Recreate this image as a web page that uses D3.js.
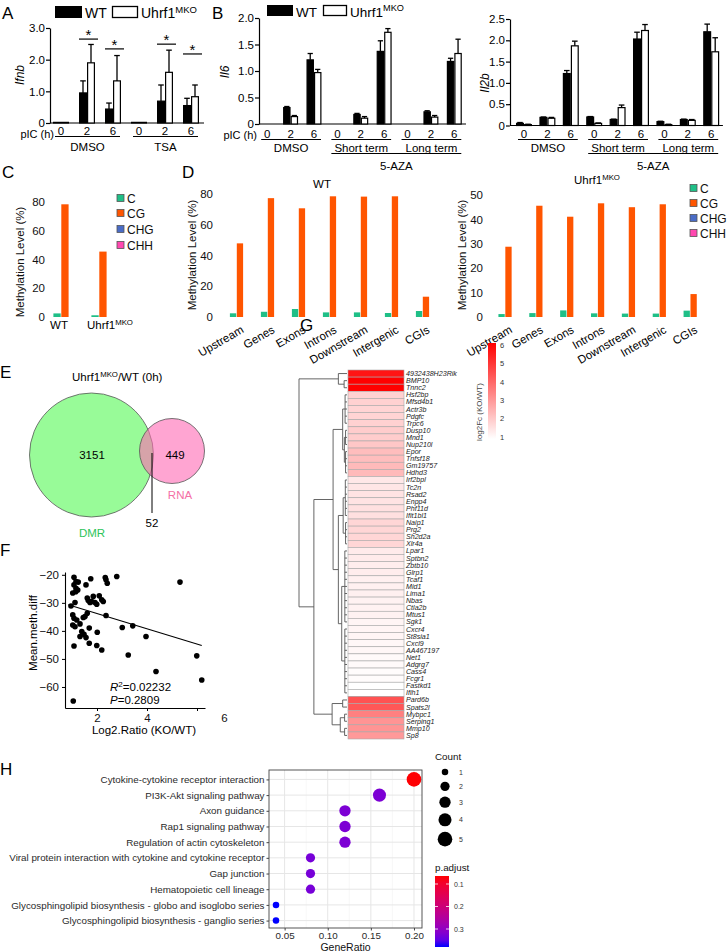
<!DOCTYPE html>
<html><head><meta charset="utf-8">
<script src="https://cdn.jsdelivr.net/npm/d3@7"></script>
<style>body{margin:0;background:#fff}svg{display:block}</style>
</head><body><svg id="c" width="728" height="952"></svg>
<script>
// ================= DATA =================
const pICLabels = ["0","2","6"];
// Panel A (Ifnb)
const ifnbKeys = ["DMSO-0","DMSO-2","DMSO-6","TSA-0","TSA-2","TSA-6"];
const ifnbGroups = ["DMSO","TSA"];
const ifnbWT    = [0.02,0.95,0.44,0.02,0.69,0.55];
const ifnbWTErr = [0,0.38,0.19,0,0.51,0.23];
const ifnbKO    = [0.02,1.9,1.33,0.02,1.6,0.83];
const ifnbKOErr = [0,0.58,0.8,0,0.7,0.37];
const ifnbTicks = [0,1,2,3];
const ifnbSigKeys = ["DMSO-2","DMSO-6","TSA-2","TSA-6"];
const ifnbSigY = [2.65,2.34,2.49,2.18];
// Panel B (Il6, Il2b)
const azaKeys = ["DMSO-0","DMSO-2","DMSO-6","Short-0","Short-2","Short-6","Long-0","Long-2","Long-6"];
const azaGroups = ["DMSO","Short term","Long term"];
const il6WT    = [0,0.31,1.21,0,0.18,1.37,0,0.23,1.18];
const il6WTErr = [0,0.02,0.12,0,0.02,0.2,0,0.02,0.06];
const il6KO    = [0,0.14,0.97,0,0.11,1.73,0,0.13,1.33];
const il6KOErr = [0,0.02,0.06,0,0.03,0.07,0,0.03,0.27];
const il6Ticks = [0,0.5,1,1.5,2];
const il2bWT    = [0.05,0.19,1.22,0.2,0.14,2.03,0.09,0.14,2.2];
const il2bWTErr = [0.02,0.01,0.07,0.01,0.01,0.16,0.01,0.01,0.18];
const il2bKO    = [0.02,0.17,1.87,0.05,0.42,2.23,0.02,0.12,1.73];
const il2bKOErr = [0.01,0.02,0.11,0.01,0.06,0.14,0.01,0.02,0.33];
const il2bTicks = [0,0.5,1,1.5,2,2.5];
// Panel C/D
const contexts = ["C","CG","CHG","CHH"];
const contextColors = ["#1fbf87","#ff5500","#4a6cc6","#ff48b0"];
const sampleKeys = ["WT","Uhrf1MKO"];
const sampleC  = [2.5,1.2];
const sampleCG = [78.4,45.5];
const regions = ["Upstream","Genes","Exons","Introns","Downstream","Intergenic","CGIs"];
const wtRegionC  = [2.4,3.4,5.2,3.0,3.0,2.6,3.9];
const wtRegionCG = [47.9,77.3,70.7,78.5,78.3,78.5,13.2];
const koRegionC  = [1.2,1.6,2.7,1.5,1.4,1.4,2.6];
const koRegionCG = [28.8,45.6,41.1,46.6,45.0,46.2,9.4];
const methTicksWT = [0,20,40,60,80];
const methTicksKO = [0,10,20,30,40,50];
// Panel E
const vennSets = ["DMR","RNA"];
const vennCounts = [3151,449,52];
// Panel F
const fX = [1.08,1.16,1.25,1.08,1.16,1.03,1.15,1.23,0.96,1.12,1.03,1.08,1.19,1.03,1.12,1.32,1.45,1.52,1.61,1.32,1.39,1.48,1.56,1.69,1.08,1.56,1.75,1.61,1.72,1.65,1.85,1.79,1.92,1.99,2.09,2.19,2.25,2.33,2.36,2.41,2.79,2.36,1.69,2.01,1.99,2.19,3.01,3.43,3.25,3.96,4.36,5.32,5.99,6.19,1.05];
const fY = [-20.9,-22.4,-22.6,-23.6,-24.8,-26.5,-26.0,-25.4,-31.1,-29.9,-34.3,-35.5,-36.1,-37.9,-38.5,-37.5,-35.2,-34.9,-33.7,-42.0,-40.2,-41.2,-42.4,-39.0,-45.4,-23.6,-21.4,-28.3,-29.9,-29.2,-27.7,-29.5,-29.9,-30.5,-27.5,-28.9,-29.5,-21.0,-21.8,-23.0,-20.6,-34.5,-44.4,-40.5,-45.2,-46.8,-38.8,-38.2,-48.6,-42.0,-54.5,-22.6,-48.9,-57.5,-65.0];
const fFitX = [0.85,6.19];
const fFitY = [-30.7,-45.2];
const fXTicks = [2,4,6];
const fYTicks = [-20,-30,-40,-50,-60];
// Panel G
const hmGenes = ["4932438H23Rik","BMP10","Tnnc2","Hsf2bp","Mfsd4b1","Actr3b","Pdgfc","Trpc6","Dusp10","Mnd1","Nup210l","Epor","Tnfsf18","Gm19757","Hdhd3","Irf2bpl","Tc2n","Rsad2","Enpp4","Phf11d","Ifit1bl1","Naip1","Prg2","Sh2d2a","Xlr4a","Lpar1","Sptbn2","Zbtb10","Glrp1","Tcaf1","Mid1","Lima1","Nbas","Ctla2b","Mtus1","Sgk1","Cxcr4","St8sia1","Cxcl9","AA467197","Net1","Adgrg7","Cass4","Fcgr1","Fastkd1","Ifih1","Pard6b","Spats2l","Mybpc1","Serping1","Mmp10","Sp8"];
const hmLog2FC = [5.6,6.0,6.0,1.9,1.9,1.85,1.85,1.9,2.0,2.0,2.1,2.3,2.3,2.35,2.35,1.45,1.5,1.55,1.55,1.6,1.6,1.8,1.8,1.8,1.8,1.4,1.4,1.35,1.35,1.3,1.3,1.3,1.25,1.25,1.25,1.2,1.2,1.2,1.15,1.15,1.1,1.1,1.05,1.05,1.0,1.0,4.4,4.3,3.5,3.1,3.1,3.0];
const hmLegendTicks = [1,2,3,4,5,6];
const dendro = {h:10, c:[
  {h:1.8, c:["4932438H23Rik",{h:0.6,c:["BMP10","Tnnc2"]}]},
  {h:6.9, c:[
    {h:2.9, c:[
      {h:0.9, c:[{h:0.4,c:["Hsf2bp","Mfsd4b1","Actr3b","Pdgfc","Trpc6"]},{h:0.55,c:[{h:0.3,c:["Dusp10","Mnd1","Nup210l"]},{h:0.3,c:["Epor","Tnfsf18","Gm19757","Hdhd3"]}]}]},
      {h:1.8, c:[
        {h:0.8, c:[{h:0.35,c:["Irf2bpl","Tc2n","Rsad2","Enpp4","Phf11d","Ifit1bl1"]},{h:0.3,c:["Naip1","Prg2","Sh2d2a","Xlr4a"]}]},
        {h:1.1, c:[{h:0.45,c:["Lpar1","Sptbn2","Zbtb10","Glrp1","Tcaf1","Mid1","Lima1","Nbas","Ctla2b","Mtus1","Sgk1"]},{h:0.45,c:["Cxcr4","St8sia1","Cxcl9","AA467197","Net1","Adgrg7","Cass4","Fcgr1","Fastkd1","Ifih1"]}]}
      ]}
    ]},
    {h:3.1, c:[{h:0.9,c:["Pard6b","Spats2l"]},{h:1.4,c:[{h:0.5,c:["Mybpc1","Serping1"]},{h:0.5,c:["Mmp10","Sp8"]}]}]}
  ]}
]};
// Panel H
const keggTerms = ["Cytokine-cytokine receptor interaction","PI3K-Akt signaling pathway","Axon guidance","Rap1 signaling pathway","Regulation of actin cytoskeleton","Viral protein interaction with cytokine and cytokine receptor","Gap junction","Hematopoietic cell lineage","Glycosphingolipid biosynthesis - globo and isoglobo series","Glycosphingolipid biosynthesis - ganglio series"];
const keggRatio = [0.20,0.16,0.12,0.12,0.12,0.08,0.08,0.08,0.04,0.04];
const keggCount = [5,4,3,3,3,2,2,2,1,1];
const keggPadj  = [0.066,0.325,0.325,0.325,0.325,0.33,0.33,0.33,0.38,0.38];
const keggXTicks = [0.05,0.10,0.15,0.20];
const countLegend = [1,2,3,4,5];
const padjTicks = [0.1,0.2,0.3];

// ================= DRAWING =================
const FONT = "'Liberation Sans', Arial, Helvetica, sans-serif";
const svg = d3.select("#c");
svg.append("rect").attr("width",728).attr("height",952).attr("fill","#fff");
const defs = svg.append("defs");

function txt(p,x,y,s,o={}){
  const t=p.append("text").attr("x",x).attr("y",y).attr("font-family",FONT)
    .attr("font-size",o.fs||11).attr("fill",o.fill||"#000").attr("text-anchor",o.anchor||"start").text(s);
  if(o.italic) t.attr("font-style","italic");
  if(o.rotate!=null) t.attr("transform",`rotate(${o.rotate},${x},${y})`);
  return t;
}
function supTxt(p,x,y,base,sup,after,o={}){
  const fs=o.fs||11;
  const t=txt(p,x,y,"",o);
  t.append("tspan").text(base);
  t.append("tspan").attr("dy",-fs*0.38).attr("font-size",fs*0.68).text(sup);
  if(after) t.append("tspan").attr("dy",fs*0.38).text(after);
  return t;
}

// panel letters
[["A",2,19],["B",212,19],["C",2,178],["D",182,178],["E",0,378],["F",0,556],["G",300,331],["H",0,775]]
  .forEach(([l,x,y])=>txt(svg,x,y,l,{fs:17}));

// ---------- grouped bar charts (A, B) ----------
function barChart(o){
  const g=svg.append("g");
  const x=d3.scaleBand().domain(o.keys).range(o.xr);
  const y=d3.scaleLinear().domain([0,o.ymax]).range([o.y0,o.y1]);
  const ax=g.append("g").attr("transform",`translate(${o.ax},0)`)
    .call(d3.axisLeft(y).tickValues(o.ticks).tickFormat(d=>d===0?"0":d3.format(".1f")(d)).tickSize(4).tickSizeOuter(0));
  ax.select(".domain").attr("stroke","#000").attr("stroke-width",1.2);
  ax.selectAll(".tick line").attr("stroke","#000").attr("stroke-width",1.2);
  ax.selectAll(".tick text").attr("font-size",11.5).attr("fill","#000").attr("font-family",FONT).attr("x",-5);
  g.append("line").attr("x1",o.ax).attr("x2",o.xr[1]).attr("y1",o.y0).attr("y2",o.y0).attr("stroke","#000").attr("stroke-width",1.2);
  const cx=k=>x(k)+x.bandwidth()/2, bw=o.bw;
  [[o.wt,o.wtErr,"#000",-bw],[o.ko,o.koErr,"#fff",0]].forEach(([vals,errs,fill,off])=>{
    o.keys.forEach((k,i)=>{
      const v=vals[i], e=errs[i], bx=cx(k)+off;
      g.append("rect").attr("x",bx+0.6).attr("y",y(v)).attr("width",bw-1.2).attr("height",Math.max(0,o.y0-y(v)))
        .attr("fill",fill).attr("stroke","#000").attr("stroke-width",1.2);
      if(e>0){
        const mx=bx+bw/2;
        g.append("line").attr("x1",mx).attr("x2",mx).attr("y1",y(v)).attr("y2",y(v+e)).attr("stroke","#000").attr("stroke-width",1.3);
        g.append("line").attr("x1",mx-bw*0.35).attr("x2",mx+bw*0.35).attr("y1",y(v+e)).attr("y2",y(v+e)).attr("stroke","#000").attr("stroke-width",1.3);
      }
    });
  });
  o.keys.forEach((k,i)=>txt(g,cx(k),o.tickY,pICLabels[i%3],{fs:11.5,anchor:"middle"}));
  if(o.picX!=null) txt(g,o.picX,o.tickY+o.picDy,"pIC (h)",{fs:11,anchor:"end"});
  o.groups.forEach((gn,gi)=>{
    const a=cx(o.keys[gi*3])-6, b=cx(o.keys[gi*3+2])+7;
    g.append("line").attr("x1",a).attr("x2",b).attr("y1",o.lineY).attr("y2",o.lineY).attr("stroke","#000").attr("stroke-width",1);
    txt(g,(a+b)/2,o.groupY,gn,{fs:11.5,anchor:"middle"});
  });
  if(o.aza){
    const a=cx(o.keys[3])-6, b=cx(o.keys[8])+7;
    g.append("line").attr("x1",a).attr("x2",b).attr("y1",o.lineY+14).attr("y2",o.lineY+14).attr("stroke","#000").attr("stroke-width",1);
    txt(g,(a+b)/2,o.lineY+30,"5-AZA",{fs:11.5,anchor:"middle"});
  }
  txt(g,o.ylx,o.yly,o.ylabel,{fs:12,italic:true,anchor:"middle",rotate:-90});
  return {g,x,y,cx};
}

const A=barChart({keys:ifnbKeys,groups:ifnbGroups,xr:[48,204],ymax:3,y0:123,y1:28,ax:50,ticks:ifnbTicks,
  wt:ifnbWT,wtErr:ifnbWTErr,ko:ifnbKO,koErr:ifnbKOErr,bw:8,tickY:135,picX:54,picDy:2.5,lineY:136.5,groupY:151,ylabel:"Ifnb",ylx:24,yly:75});
ifnbSigKeys.forEach((k,i)=>{
  const c=A.cx(k), yy=A.y(ifnbSigY[i]);
  A.g.append("line").attr("x1",c-8).attr("x2",c+11).attr("y1",yy).attr("y2",yy).attr("stroke","#000").attr("stroke-width",1.2);
  txt(A.g,c+1.5,yy+1,"*",{fs:15,anchor:"middle"});
});
// legend A
svg.append("rect").attr("x",55).attr("y",6).attr("width",27).attr("height",12).attr("fill","#000");
txt(svg,85,18,"WT",{fs:14});
svg.append("rect").attr("x",112.5).attr("y",6.5).attr("width",25).attr("height",11).attr("fill","#fff").attr("stroke","#000").attr("stroke-width",1.3);
supTxt(svg,141,18,"Uhrf1","MKO",null,{fs:14});

barChart({keys:azaKeys,groups:azaGroups,xr:[255.5,466],ymax:2,y0:124,y1:18,ax:259,ticks:il6Ticks,
  wt:il6WT,wtErr:il6WTErr,ko:il6KO,koErr:il6KOErr,bw:7.5,tickY:137.5,picX:257,picDy:1,lineY:139.5,groupY:151.5,ylabel:"Il6",ylx:229,yly:72,aza:true});
barChart({keys:azaKeys,groups:azaGroups,xr:[512.3,722.9],ymax:2.5,y0:125.5,y1:19,ax:510,ticks:il2bTicks,
  wt:il2bWT,wtErr:il2bWTErr,ko:il2bKO,koErr:il2bKOErr,bw:8,tickY:137.5,picX:null,picDy:0,lineY:139.5,groupY:151.5,ylabel:"Il2b",ylx:489,yly:83,aza:true});
// legend B
svg.append("rect").attr("x",267).attr("y",5).attr("width",26).attr("height",11).attr("fill","#000");
txt(svg,296,16.5,"WT",{fs:13.5});
svg.append("rect").attr("x",323.5).attr("y",5.5).attr("width",23).attr("height",10).attr("fill","#fff").attr("stroke","#000").attr("stroke-width",1.3);
supTxt(svg,350,16.5,"Uhrf1","MKO",null,{fs:13.5});

// ---------- methylation bars (C, D) ----------
function methChart(o){
  const g=svg.append("g");
  const x=d3.scaleBand().domain(o.keys).range(o.xr);
  const y=d3.scaleLinear().domain([0,o.ymax]).range([317,o.yTop]);
  const ax=g.append("g").attr("transform",`translate(${o.labX},0)`).call(d3.axisLeft(y).tickValues(o.ticks).tickSize(0).tickPadding(0));
  ax.select(".domain").remove();
  ax.selectAll(".tick text").attr("font-size",11.5).attr("fill","#111").attr("font-family",FONT);
  const cx=k=>x(k)+x.bandwidth()/2;
  o.keys.forEach((k,i)=>{
    g.append("rect").attr("x",cx(k)-o.bw-0.3).attr("y",y(o.c[i])).attr("width",o.bw).attr("height",317-y(o.c[i])).attr("fill",contextColors[0]);
    g.append("rect").attr("x",cx(k)+0.3).attr("y",y(o.cg[i])).attr("width",o.bw).attr("height",317-y(o.cg[i])).attr("fill",contextColors[1]);
  });
  txt(g,o.ylx,o.yly,"Methylation Level (%)",{fs:11.5,anchor:"middle",rotate:-90,fill:"#111"});
  return {g,x,y,cx};
}
function methLegend(x0,ys){
  contexts.forEach((c,i)=>{
    svg.append("rect").attr("x",x0).attr("y",ys[i]-3.5).attr("width",7).attr("height",7).attr("fill",contextColors[i]).attr("stroke","#555").attr("stroke-width",0.8);
    txt(svg,x0+10,ys[i]+4.5,c,{fs:12,fill:"#111"});
  });
}
const C=methChart({keys:sampleKeys,xr:[42,118],ymax:80,yTop:202,labX:45,ticks:methTicksWT,c:sampleC,cg:sampleCG,bw:7.3,ylx:24,yly:262});
txt(svg,C.cx("WT")-2,329,"WT",{fs:11.5,anchor:"middle"});
supTxt(svg,C.cx("Uhrf1MKO")-12,329,"Uhrf1","MKO",null,{fs:11.5});
methLegend(117,[198,213,229,245]);

const DW=methChart({keys:regions,xr:[221,438],ymax:80,yTop:194,labX:213,ticks:methTicksWT,c:wtRegionC,cg:wtRegionCG,bw:6.3,ylx:196,yly:255});
txt(svg,322,188,"WT",{fs:11.5,anchor:"middle"});
const DK=methChart({keys:regions,xr:[489.6,705.6],ymax:50,yTop:195,labX:483,ticks:methTicksKO,c:koRegionC,cg:koRegionCG,bw:6.3,ylx:466,yly:255});
supTxt(svg,574,184,"Uhrf1","MKO",null,{fs:11.5});
methLegend(690,[188,203,218,233]);
[DW,DK].forEach(D=>regions.forEach(r=>{
  txt(svg,D.cx(r)+8,332,r,{fs:11.5,anchor:"end",rotate:-30});
}));

// ---------- Venn (E) ----------
supTxt(svg,72,381,"Uhrf1","MKO","/WT (0h)",{fs:11.5});
svg.append("circle").attr("cx",91.5).attr("cy",455).attr("r",62).attr("fill","#98fb98").attr("stroke","#555").attr("stroke-width",0.8);
svg.append("circle").attr("cx",172).attr("cy",451).attr("r",32.5).attr("fill","#ff69b4").attr("fill-opacity",0.6).attr("stroke","#555").attr("stroke-width",0.8);
txt(svg,92,459,vennCounts[0],{fs:11.5,anchor:"middle"});
txt(svg,175,459,vennCounts[1],{fs:11.5,anchor:"middle"});
svg.append("line").attr("x1",152).attr("x2",152).attr("y1",453).attr("y2",513).attr("stroke","#000").attr("stroke-width",1);
txt(svg,152,527,vennCounts[2],{fs:11.5,anchor:"middle"});
txt(svg,92,537,vennSets[0],{fs:11.5,anchor:"middle",fill:"#2ec45a"});
txt(svg,180,499,vennSets[1],{fs:11.5,anchor:"middle",fill:"#f46fa6"});

// ---------- Scatter (F) ----------
{
  const g=svg.append("g");
  const x=d3.scaleLinear().domain([0.72,6.32]).range([65,205]);
  const y=d3.scaleLinear().domain([-67.5,-19]).range([708,572]);
  const ay=g.append("g").attr("transform","translate(65,0)").call(d3.axisLeft(y).tickValues(fYTicks).tickSize(3).tickSizeOuter(0));
  const axx=g.append("g").attr("transform","translate(0,708)").call(d3.axisBottom(x).tickValues(fXTicks).tickFormat(d3.format("d")).tickSize(3).tickSizeOuter(0));
  [ay,axx].forEach(a=>{a.select(".domain").attr("stroke","#000").attr("stroke-width",1.1);
    a.selectAll(".tick line").attr("stroke","#000");
    a.selectAll(".tick text").attr("font-size",11.5).attr("fill","#111").attr("font-family",FONT);});
  axx.selectAll(".tick text").attr("dx",d=>d===6?27:0);
  fX.forEach((v,i)=>g.append("circle").attr("cx",x(v)).attr("cy",y(fY[i])).attr("r",2.8).attr("fill","#000"));
  g.append("line").attr("x1",x(fFitX[0])).attr("x2",x(fFitX[1])).attr("y1",y(fFitY[0])).attr("y2",y(fFitY[1])).attr("stroke","#000").attr("stroke-width",1.1);
  const r=txt(g,110,691,"",{fs:11.5});
  r.append("tspan").attr("font-style","italic").text("R");
  r.append("tspan").attr("dy",-4).attr("font-size",8).text("2");
  r.append("tspan").attr("dy",4).text("=0.02232");
  const p=txt(g,110,703.5,"",{fs:11.5});
  p.append("tspan").attr("font-style","italic").text("P");
  p.append("tspan").text("=0.2809");
  txt(g,37,633,"Mean.meth.diff",{fs:11.5,anchor:"middle",rotate:-90});
  txt(g,144,734,"Log2.Ratio (KO/WT)",{fs:11.5,anchor:"middle"});
}

// ---------- Heatmap (G) ----------
{
  const g=svg.append("g");
  const hy=d3.scaleBand().domain(hmGenes).range([370,739]);
  const hc=d3.scaleLinear().domain([1,6]).range(["#ffffff","#ff0000"]);
  hmGenes.forEach((gn,i)=>{
    g.append("rect").attr("x",348).attr("y",hy(gn)).attr("width",56).attr("height",hy.bandwidth())
      .attr("fill",hc(hmLog2FC[i])).attr("stroke","#a8a8a8").attr("stroke-width",0.6);
    txt(g,406,hy(gn)+hy.bandwidth()/2+2.5,gn,{fs:7.1,italic:true,fill:"#222"});
  });
  const dx=d3.scaleLinear().domain([0,10]).range([347,299]);
  const root=d3.hierarchy(dendro,d=>(typeof d==="object")?d.c:null);
  (function pos(n){
    if(!n.children){n.px=347;n.py=hy(n.data)+hy.bandwidth()/2;}
    else{n.children.forEach(pos);n.px=dx(n.data.h);n.py=(n.children[0].py+n.children[n.children.length-1].py)/2;}
  })(root);
  root.each(n=>{
    if(!n.children) return;
    const c=n.children;
    g.append("line").attr("x1",n.px).attr("x2",n.px).attr("y1",c[0].py).attr("y2",c[c.length-1].py).attr("stroke","#555").attr("stroke-width",0.9);
    c.forEach(ch=>g.append("line").attr("x1",n.px).attr("x2",ch.px).attr("y1",ch.py).attr("y2",ch.py).attr("stroke","#555").attr("stroke-width",0.9));
  });
  // color legend
  const ly=d3.scaleLinear().domain([1,6]).range([437,345]);
  const grad=defs.append("linearGradient").attr("id","hmg").attr("x1",0).attr("x2",0).attr("y1",1).attr("y2",0);
  grad.append("stop").attr("offset",0).attr("stop-color",hc(1));
  grad.append("stop").attr("offset",1).attr("stop-color",hc(6));
  g.append("rect").attr("x",488).attr("y",ly(6)-2).attr("width",8).attr("height",ly(1)-ly(6)+4).attr("fill","url(#hmg)");
  hmLegendTicks.forEach(t=>txt(g,500,ly(t)+2.8,t,{fs:7.5,fill:"#333"}));
  txt(g,482,412,"log2Fc (KO/WT)",{fs:8,anchor:"middle",rotate:-90,fill:"#444"});
}

// ---------- Dot plot (H) ----------
{
  const g=svg.append("g");
  const x=d3.scaleLinear().domain([0.0319,0.2093]).range([269,422]);
  const y=d3.scalePoint().domain(keggTerms).range([770,930]).padding(0.6);
  const rs=d3.scaleSqrt().domain([0,5]).range([0,7.3]);
  const pcol=d3.scaleLinear().domain([0.0644,0.38]).range(["#ff0000","#0000ff"]).interpolate(d3.interpolateLab);
  [0.075,0.125,0.175].forEach(v=>g.append("line").attr("x1",x(v)).attr("x2",x(v)).attr("y1",770).attr("y2",928).attr("stroke","#f2f2f2").attr("stroke-width",0.6));
  keggXTicks.forEach(v=>g.append("line").attr("x1",x(v)).attr("x2",x(v)).attr("y1",770).attr("y2",928).attr("stroke","#e6e6e6").attr("stroke-width",1));
  keggTerms.forEach(t=>g.append("line").attr("x1",269).attr("x2",422).attr("y1",y(t)).attr("y2",y(t)).attr("stroke","#e6e6e6").attr("stroke-width",1));
  keggTerms.forEach((t,i)=>g.append("circle").attr("cx",x(keggRatio[i])).attr("cy",y(t)).attr("r",rs(keggCount[i])).attr("fill",pcol(keggPadj[i])));
  g.append("rect").attr("x",269).attr("y",770).attr("width",153).attr("height",158).attr("fill","none").attr("stroke","#444").attr("stroke-width",0.9);
  const ay=g.append("g").attr("transform","translate(269,0)").call(d3.axisLeft(y).tickSize(2.5).tickPadding(2));
  ay.select(".domain").remove();
  ay.selectAll(".tick line").attr("stroke","#444");
  ay.selectAll(".tick text").attr("font-size",9.8).attr("fill","#2a2a2a").attr("font-family",FONT);
  const ax=g.append("g").attr("transform","translate(0,928)").call(d3.axisBottom(x).tickValues(keggXTicks).tickFormat(d3.format(".2f")).tickSize(2.5).tickPadding(2));
  ax.select(".domain").remove();
  ax.selectAll(".tick line").attr("stroke","#444");
  ax.selectAll(".tick text").attr("font-size",9.8).attr("fill","#2a2a2a").attr("font-family",FONT);
  txt(g,345.5,951,"GeneRatio",{fs:10.5,anchor:"middle",fill:"#111"});
  // count legend
  txt(g,435,760,"Count",{fs:9.8,fill:"#111"});
  let cy=765;
  countLegend.forEach((c,i)=>{
    const h=Math.max(14,2*rs(c)+5.5);
    const yy=cy+h/2;
    g.append("circle").attr("cx",445).attr("cy",yy).attr("r",rs(c)).attr("fill","#000");
    txt(g,459,yy+2.5,c,{fs:7,fill:"#333"});
    cy+=h;
  });
  // p.adjust legend
  txt(g,435,871,"p.adjust",{fs:9.8,fill:"#111"});
  const py=d3.scaleLinear().domain([0.0644,0.38]).range([876,947]);
  const gr=defs.append("linearGradient").attr("id","pg").attr("x1",0).attr("x2",0).attr("y1",0).attr("y2",1);
  d3.range(0,1.0001,0.1).forEach(t=>gr.append("stop").attr("offset",t).attr("stop-color",pcol(0.0644+t*(0.38-0.0644))));
  g.append("rect").attr("x",435).attr("y",876).attr("width",14).attr("height",71).attr("fill","url(#pg)");
  padjTicks.forEach(v=>{
    g.append("line").attr("x1",435).attr("x2",438).attr("y1",py(v)).attr("y2",py(v)).attr("stroke","#fff").attr("stroke-width",0.8);
    g.append("line").attr("x1",446).attr("x2",449).attr("y1",py(v)).attr("y2",py(v)).attr("stroke","#fff").attr("stroke-width",0.8);
    txt(g,454,py(v)+2.5,d3.format(".1f")(v),{fs:7,fill:"#333"});
  });
}
</script></body></html>
